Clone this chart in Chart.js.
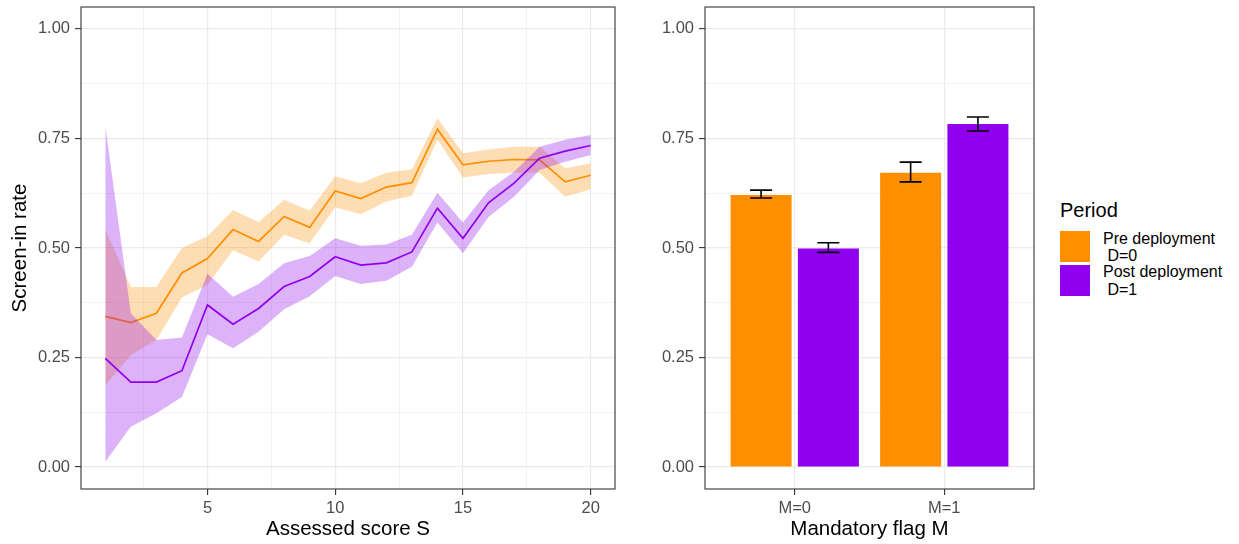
<!DOCTYPE html>
<html>
<head>
<meta charset="utf-8">
<script src="https://cdn.jsdelivr.net/npm/chart.js@4.4.1/dist/chart.umd.min.js"></script>
<style>
  body { margin: 0; background: #fff; font-family: 'Liberation Sans', Arial, sans-serif; }
  #wrap { position: relative; width: 1239px; height: 544px; }
  #scoreChart { position: absolute; left: 0; top: 0; }
  #flagChart { position: absolute; left: 625px; top: 0; }
  #legend { position: absolute; left: 1060px; top: 0; color: #000; }
  #legend .title { position: absolute; left: 0; top: 198px; font-size: 20px; line-height: 24px; white-space: nowrap; }
  #legend .key { position: absolute; left: 0; width: 30px; height: 31px; }
  #legend .lab { position: absolute; left: 43px; font-size: 16px; line-height: 17.7px; white-space: pre; }
</style>
</head>
<body>
<div id="wrap">
  <canvas id="scoreChart" width="625" height="544"></canvas>
  <canvas id="flagChart" width="420" height="544"></canvas>
  <div id="legend"></div>
</div>
<script>
// left panel: screen-in rate by assessed score
const scores = [1, 2, 3, 4, 5, 6, 7, 8, 9, 10, 11, 12, 13, 14, 15, 16, 17, 18, 19, 20];
const preRate  = [0.344, 0.330, 0.351, 0.443, 0.476, 0.542, 0.515, 0.572, 0.547, 0.630, 0.613, 0.639, 0.649, 0.771, 0.690, 0.698, 0.702, 0.701, 0.651, 0.666];
const preUpper = [0.543, 0.411, 0.411, 0.500, 0.527, 0.587, 0.559, 0.610, 0.585, 0.664, 0.648, 0.672, 0.680, 0.796, 0.716, 0.725, 0.731, 0.731, 0.682, 0.693];
const preLower = [0.186, 0.256, 0.290, 0.387, 0.416, 0.495, 0.469, 0.530, 0.511, 0.593, 0.577, 0.606, 0.619, 0.747, 0.661, 0.669, 0.672, 0.672, 0.617, 0.634];
const postRate  = [0.248, 0.194, 0.194, 0.220, 0.370, 0.326, 0.362, 0.412, 0.435, 0.480, 0.461, 0.466, 0.491, 0.591, 0.522, 0.603, 0.648, 0.705, 0.721, 0.734];
const postUpper = [0.779, 0.351, 0.290, 0.296, 0.441, 0.389, 0.418, 0.465, 0.482, 0.522, 0.505, 0.508, 0.530, 0.626, 0.558, 0.632, 0.674, 0.731, 0.747, 0.758];
const postLower = [0.012, 0.092, 0.123, 0.160, 0.303, 0.271, 0.309, 0.360, 0.390, 0.436, 0.418, 0.425, 0.457, 0.558, 0.488, 0.571, 0.617, 0.678, 0.697, 0.712];

// right panel: screen-in rate by mandatory flag
const flags = ['M=0', 'M=1'];
const preBar  = [0.621, 0.672];
const preLo   = [0.614, 0.651];
const preHi   = [0.632, 0.696];
const postBar = [0.499, 0.783];
const postLo  = [0.490, 0.767];
const postHi  = [0.512, 0.799];

const periods = ['Pre deployment\n D=0', 'Post deployment\n D=1'];
const ORANGE = '#FF8E00';
const PURPLE = '#9100EE';
const ORANGE_FILL = 'rgba(255,142,0,0.3)';
const PURPLE_FILL = 'rgba(140,0,235,0.3)';

Chart.defaults.font.family = "'Liberation Sans', Arial, sans-serif";
Chart.defaults.animation = false;

const GRID = '#EBEBEB';
const isQuarter = v => Math.abs(v * 4 - Math.round(v * 4)) < 1e-9;

// ggplot style panel border
const panelBorder = {
  id: 'panelBorder',
  afterDraw(chart) {
    const { ctx, chartArea: a } = chart;
    ctx.save();
    ctx.strokeStyle = '#333333';
    ctx.lineWidth = 1.1;
    ctx.strokeRect(a.left, a.top, a.right - a.left, a.bottom - a.top);
    ctx.restore();
  }
};

function yAxis(width, withTitle) {
  return {
    min: -0.05,
    max: 1.05,
    afterFit: s => { s.width = width; s.paddingTop = 0; s.paddingBottom = 0; },
    border: { display: false },
    grid: {
      color: GRID,
      lineWidth: c => (c.tick && isQuarter(c.tick.value)) ? 1.2 : 0.6,
      tickLength: 6,
      tickWidth: 1.1,
      tickColor: c => (c.tick && isQuarter(c.tick.value)) ? '#333333' : 'rgba(0,0,0,0)'
    },
    ticks: {
      stepSize: 0.125,
      includeBounds: false,
      autoSkip: false,
      padding: 5,
      color: '#4D4D4D',
      font: { size: 16.5 },
      callback: v => isQuarter(v) ? v.toFixed(2) : ''
    },
    title: {
      display: withTitle,
      text: 'Screen-in rate',
      color: '#000',
      font: { size: 20.5 },
      padding: { top: 8, bottom: 0 }
    }
  };
}

function xTitle(text) {
  return { display: true, text: text, color: '#000', font: { size: 20.5 }, padding: { top: 0, bottom: 2 } };
}

const fixX = s => { s.height = 55; s.paddingLeft = 0; s.paddingRight = 0; };

const toPts = arr => arr.map((v, i) => ({ x: scores[i], y: v }));
const band = (data, fill, color, order) => ({
  data: toPts(data), fill: fill, backgroundColor: color, borderColor: 'rgba(0,0,0,0)',
  borderWidth: 0, pointRadius: 0, tension: 0, order: order
});

new Chart(document.getElementById('scoreChart'), {
  type: 'line',
  data: {
    datasets: [
      band(preUpper, '+1', ORANGE_FILL, 4),
      band(preLower, false, ORANGE_FILL, 4),
      { data: toPts(preRate), borderColor: ORANGE, borderWidth: 1.7, pointRadius: 0, fill: false, tension: 0, order: 3 },
      band(postUpper, '+1', PURPLE_FILL, 2),
      band(postLower, false, PURPLE_FILL, 2),
      { data: toPts(postRate), borderColor: PURPLE, borderWidth: 1.7, pointRadius: 0, fill: false, tension: 0, order: 1 }
    ]
  },
  options: {
    responsive: false,
    layout: { padding: { top: 7, right: 10, left: 0, bottom: 0 } },
    plugins: { legend: { display: false }, tooltip: { enabled: false } },
    scales: {
      x: {
        type: 'linear',
        min: 0.05,
        max: 20.95,
        afterFit: fixX,
        border: { display: false },
        grid: {
          color: GRID,
          lineWidth: c => (c.tick && c.tick.value % 5 === 0) ? 1.2 : 0.6,
          tickLength: 6,
          tickWidth: 1.1,
          tickColor: c => (c.tick && c.tick.value % 5 === 0) ? '#333333' : 'rgba(0,0,0,0)'
        },
        ticks: {
          stepSize: 2.5,
          includeBounds: false,
          autoSkip: false,
          maxRotation: 0,
          padding: 4,
          color: '#4D4D4D',
          font: { size: 16.5 },
          callback: v => v % 5 === 0 ? String(v) : ''
        },
        title: xTitle('Assessed score S')
      },
      y: yAxis(81, true)
    }
  },
  plugins: [panelBorder]
});

// error bars drawn through the y scale
const errorBars = {
  id: 'errorBars',
  afterDatasetsDraw(chart) {
    const { ctx } = chart;
    const y = chart.scales.y;
    ctx.save();
    ctx.strokeStyle = '#000';
    ctx.lineWidth = 1.6;
    chart.data.datasets.forEach((ds, di) => {
      chart.getDatasetMeta(di).data.forEach((bar, i) => {
        const lo = y.getPixelForValue(ds.errLow[i]);
        const hi = y.getPixelForValue(ds.errHigh[i]);
        const cx = bar.x, hw = 11;
        ctx.beginPath();
        ctx.moveTo(cx, lo); ctx.lineTo(cx, hi);
        ctx.moveTo(cx - hw, lo); ctx.lineTo(cx + hw, lo);
        ctx.moveTo(cx - hw, hi); ctx.lineTo(cx + hw, hi);
        ctx.stroke();
      });
    });
    ctx.restore();
  }
};

const barPts = arr => arr.map((v, i) => ({ x: i, y: v }));

new Chart(document.getElementById('flagChart'), {
  type: 'bar',
  data: {
    datasets: [
      { data: barPts(preBar), backgroundColor: ORANGE, errLow: preLo, errHigh: preHi, borderWidth: 0 },
      { data: barPts(postBar), backgroundColor: PURPLE, errLow: postLo, errHigh: postHi, borderWidth: 0 }
    ]
  },
  options: {
    responsive: false,
    categoryPercentage: 0.9,
    barPercentage: 0.907,
    layout: { padding: { top: 7, right: 11, left: 0, bottom: 0 } },
    plugins: { legend: { display: false }, tooltip: { enabled: false } },
    scales: {
      x: {
        type: 'linear',
        min: -0.6,
        max: 1.6,
        offset: false,
        afterFit: fixX,
        border: { display: false },
        grid: { offset: false, color: GRID, lineWidth: 1.2, tickLength: 6, tickWidth: 1.1, tickColor: '#333333' },
        ticks: {
          stepSize: 1,
          includeBounds: false,
          autoSkip: false,
          maxRotation: 0,
          padding: 4,
          color: '#4D4D4D',
          font: { size: 16.5 },
          callback: v => flags[v] !== undefined ? flags[v] : ''
        },
        title: xTitle('Mandatory flag M')
      },
      y: yAxis(80, false)
    }
  },
  plugins: [errorBars, panelBorder]
});

// legend
const legend = document.getElementById('legend');
const title = document.createElement('div');
title.className = 'title';
title.textContent = 'Period';
legend.appendChild(title);
[ORANGE, PURPLE].forEach((col, i) => {
  const key = document.createElement('div');
  key.className = 'key';
  key.style.background = col;
  key.style.top = (231 + i * 34) + 'px';
  legend.appendChild(key);
  const lab = document.createElement('div');
  lab.className = 'lab';
  lab.style.top = (229.6 + i * 33.5) + 'px';
  lab.textContent = periods[i];
  legend.appendChild(lab);
});
</script>
</body>
</html>
